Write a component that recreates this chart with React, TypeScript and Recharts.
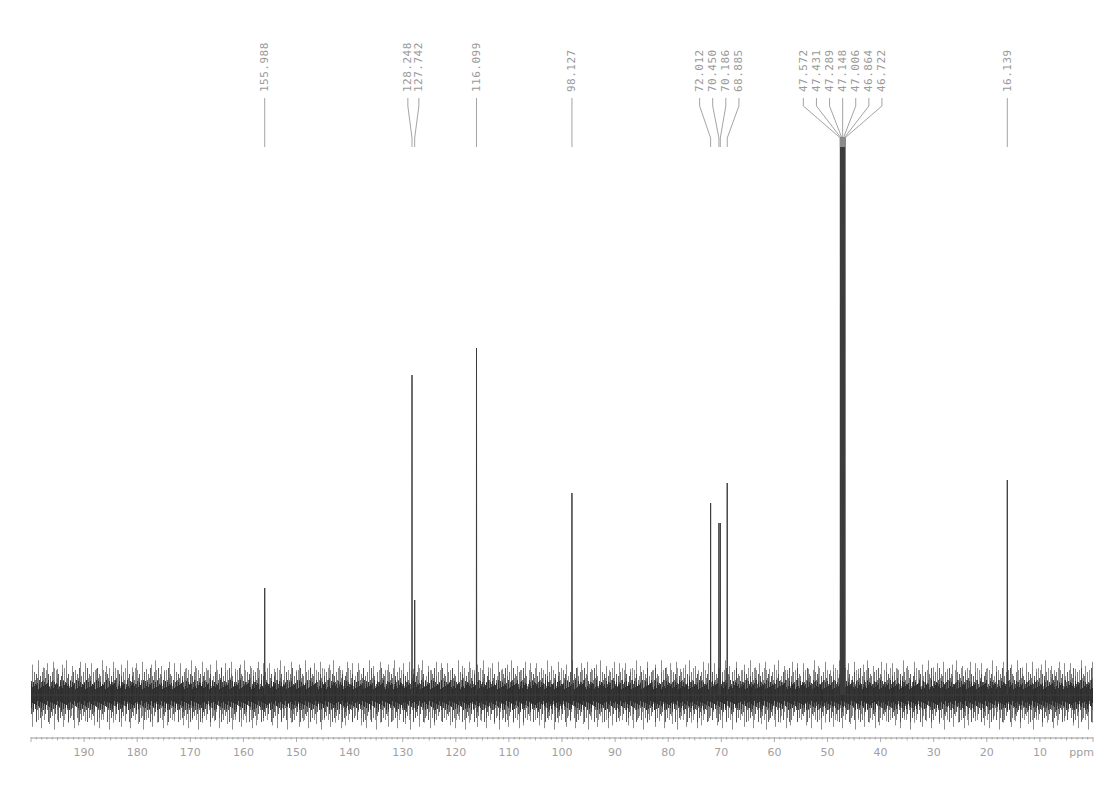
import React from 'react';
import { ComposedChart, Line, Area, Scatter, XAxis, YAxis } from 'recharts';

// 13C spectrum: peak positions (ppm) and relative intensities
const PEAK_PPM = [
  155.988, 128.248, 127.742, 116.099, 98.127,
  72.012, 70.45, 70.186, 68.885,
  47.572, 47.431, 47.289, 47.148, 47.006, 46.864, 46.722,
  16.139,
];
const PEAK_HEIGHT = [
  21.4, 64, 19, 69.4, 40.4,
  38.4, 34.4, 34.4, 42.4,
  111.6, 111.6, 111.6, 111.6, 111.6, 111.6, 111.6,
  43,
];
// indices into PEAK_PPM that share one label block
const PEAK_GROUPS = [[0], [1, 2], [3], [4], [5, 6, 7, 8], [9, 10, 11, 12, 13, 14, 15], [16]];

// baseline noise envelope
const NOISE_PPM = [200, 180, 160, 140, 120, 100, 80, 60, 40, 20, 0];
const NOISE_HI = [7.6, 7.8, 7.5, 7.7, 7.6, 7.8, 7.6, 7.5, 7.7, 7.6, 7.8];
const NOISE_LO = [-7.4, -7.6, -7.5, -7.4, -7.6, -7.5, -7.4, -7.6, -7.5, -7.4, -7.5];

// layout
const W = 1120;
const H = 790;
const MARGIN = { top: 38, right: 27, bottom: 0, left: 31 };
const XAXIS_H = 52;
const Y_MIN = -8.6;
const Y_MAX = 131.4;
const PLOT_W = W - MARGIN.left - MARGIN.right;
const PLOT_H = H - MARGIN.top - MARGIN.bottom - XAXIS_H;
const PX_PER_UNIT = PLOT_H / (Y_MAX - Y_MIN);
const PX_PER_PPM = PLOT_W / 200;
const BASE_Y = MARGIN.top + (Y_MAX / (Y_MAX - Y_MIN)) * PLOT_H;
const lvl = (py: number) => (BASE_Y - py) / PX_PER_UNIT;

const LABEL_V = lvl(92);
const CONN_TOP = lvl(98);
const CONN_BEND1 = lvl(106);
const CONN_BEND2 = lvl(138);
const CONN_BOT = lvl(147);

const LABEL_GRAY = '#9a9a9a';

// spectrum trace: each line rises from the baseline to its intensity
const spectrum: { x: number; v: number }[] = [{ x: 200, v: 0 }];
PEAK_PPM.map((p, i) => ({ p, h: PEAK_HEIGHT[i] }))
  .sort((a, b) => b.p - a.p)
  .forEach(({ p, h }) => {
    spectrum.push({ x: p + 0.03, v: 0 }, { x: p, v: h }, { x: p - 0.03, v: 0 });
  });
spectrum.push({ x: 0, v: 0 });

// label positions and connector polylines
const labels: { x: number; v: number; text: string }[] = [];
const connectors: { x: number; v: number | null }[] = [];
PEAK_GROUPS.forEach((g) => {
  const mean = g.reduce((s, i) => s + PEAK_PPM[i], 0) / g.length;
  const stepPx = g.length === 2 ? 11 : 13.1;
  const step = stepPx / PX_PER_PPM;
  g.forEach((idx, k) => {
    const p = PEAK_PPM[idx];
    const lx = g.length === 1 ? p : mean + ((g.length - 1) / 2 - k) * step;
    labels.push({ x: lx, v: LABEL_V, text: p.toFixed(3) });
    if (g.length === 1) {
      connectors.push({ x: lx, v: CONN_TOP }, { x: lx, v: CONN_BOT });
    } else {
      connectors.push(
        { x: lx, v: CONN_TOP },
        { x: lx, v: CONN_BEND1 },
        { x: p, v: CONN_BEND2 },
        { x: p, v: CONN_BOT },
      );
    }
    connectors.push({ x: p, v: null });
  });
});

const noiseData = NOISE_PPM.map((x, i) => ({ x, band: [NOISE_LO[i], NOISE_HI[i]] }));

// textures for the noise band
const A_UP = '52718364905172839465017283946501827364915273948160527391846025739184603';
const A_DN = '62840173958264039172856401937285640193827461850392746185039274618503927';
const B_UP = '3518274609183725460917283546091827354609128374569203817465029318476';
const B_DN = '7291834056271938405627193840561729384056172938405619283740561928374';
const C_UP = '..7....3.....9...5......8....2..6.....9....4...7.....8...3....6...9.....5..2....8....7...';
const C_DN = '.....6....8...2.....9...4.......7...3....8.......5....9..2.....7....4.....8...6......3...';
const SHADES = ['#3e3e3e', '#5e5e5e', '#7e7e7e'];

function NoisePattern(props: {
  id: string; up: string; down: string; base: number; scale: number; color?: string; opacity: number;
}) {
  const { id, up, down, base, scale, color, opacity } = props;
  const n = up.length;
  const lines: React.ReactNode[] = [];
  for (let i = 0; i < n; i++) {
    const u = up[i];
    const d = down[i % down.length];
    const ul = u === '.' ? 0 : base + Number(u) * scale;
    const dl = d === '.' ? 0 : base + Number(d) * scale;
    if (ul === 0 && dl === 0) continue;
    const c = color ?? SHADES[(Number(u) + Number(d)) % 3];
    lines.push(
      <line key={i} x1={i + 0.5} x2={i + 0.5} y1={BASE_Y - ul} y2={BASE_Y + dl}
        stroke={c} strokeWidth={1} strokeOpacity={opacity} />,
    );
  }
  return (
    <pattern id={id} patternUnits="userSpaceOnUse" x={0} y={0} width={n} height={H}>
      {lines}
    </pattern>
  );
}

function AxisTick(props: any) {
  const { x, y, payload } = props;
  const v = Math.round(payload.value);
  const major = v % 10 === 0;
  const len = major ? 4 : v % 5 === 0 ? 2.5 : 1.5;
  return (
    <g>
      <line x1={x} x2={x} y1={y - 1} y2={y + len} stroke="#9a9a9a" strokeWidth={0.8} />
      {major && v > 0 && v < 200 && (
        <text x={x} y={y + 18} textAnchor="middle" fontFamily="DejaVu Sans" fontSize={11} fill="#a0a0a0">
          {v}
        </text>
      )}
      {v === 0 && (
        <text x={x + 1} y={y + 18} textAnchor="end" fontFamily="DejaVu Sans" fontSize={11} fill="#a0a0a0">
          ppm
        </text>
      )}
    </g>
  );
}

const LabelShape = (props: any) => {
  const { cx, cy, payload } = props;
  return (
    <text
      x={cx}
      y={cy}
      transform={`rotate(-90, ${cx}, ${cy})`}
      dominantBaseline="central"
      textAnchor="start"
      fontFamily="DejaVu Sans Mono"
      fontSize={11}
      letterSpacing={0.5}
      fill={LABEL_GRAY}
    >
      {payload.text}
    </text>
  );
};

const allTicks: number[] = [];
for (let t = 0; t <= 200; t++) allTicks.push(t);

export default function App() {
  return (
    <div style={{ position: 'absolute', left: 0, top: 0, width: W, height: H, background: '#fff' }}>
      <ComposedChart width={W} height={H} data={noiseData} margin={MARGIN}>
        <defs>
          <NoisePattern id="noiseA" up={A_UP} down={A_DN} base={9} scale={2.0} opacity={0.85} />
          <NoisePattern id="noiseB" up={B_UP} down={B_DN} base={6} scale={1.0} color="#262626" opacity={0.85} />
          <NoisePattern id="noiseC" up={C_UP} down={C_DN} base={22} scale={1.4} color="#808080" opacity={0.9} />
        </defs>
        <XAxis
          dataKey="x"
          type="number"
          domain={[0, 200]}
          reversed
          allowDataOverflow
          ticks={allTicks}
          interval={0}
          height={XAXIS_H}
          tickSize={0}
          tickMargin={0}
          tickLine={false}
          axisLine={{ stroke: '#9a9a9a', strokeWidth: 1 }}
          tick={(p: any) => <AxisTick {...p} />}
        />
        <YAxis hide type="number" domain={[Y_MIN, Y_MAX]} allowDataOverflow />
        <Area dataKey="band" type="linear" stroke="none" fill="url(#noiseC)" fillOpacity={1} isAnimationActive={false} activeDot={false} />
        <Area dataKey="band" type="linear" stroke="none" fill="url(#noiseA)" fillOpacity={1} isAnimationActive={false} activeDot={false} />
        <Area dataKey="band" type="linear" stroke="none" fill="url(#noiseB)" fillOpacity={1} isAnimationActive={false} activeDot={false} />
        <Line data={spectrum} dataKey="v" type="linear" stroke="#3c3c3c" strokeWidth={1} dot={false} activeDot={false} isAnimationActive={false} />
        <Line data={connectors} dataKey="v" type="linear" stroke={LABEL_GRAY} strokeWidth={0.9} dot={false} activeDot={false} connectNulls={false} isAnimationActive={false} />
        <Scatter data={labels} dataKey="v" shape={LabelShape} isAnimationActive={false} />
      </ComposedChart>
    </div>
  );
}
